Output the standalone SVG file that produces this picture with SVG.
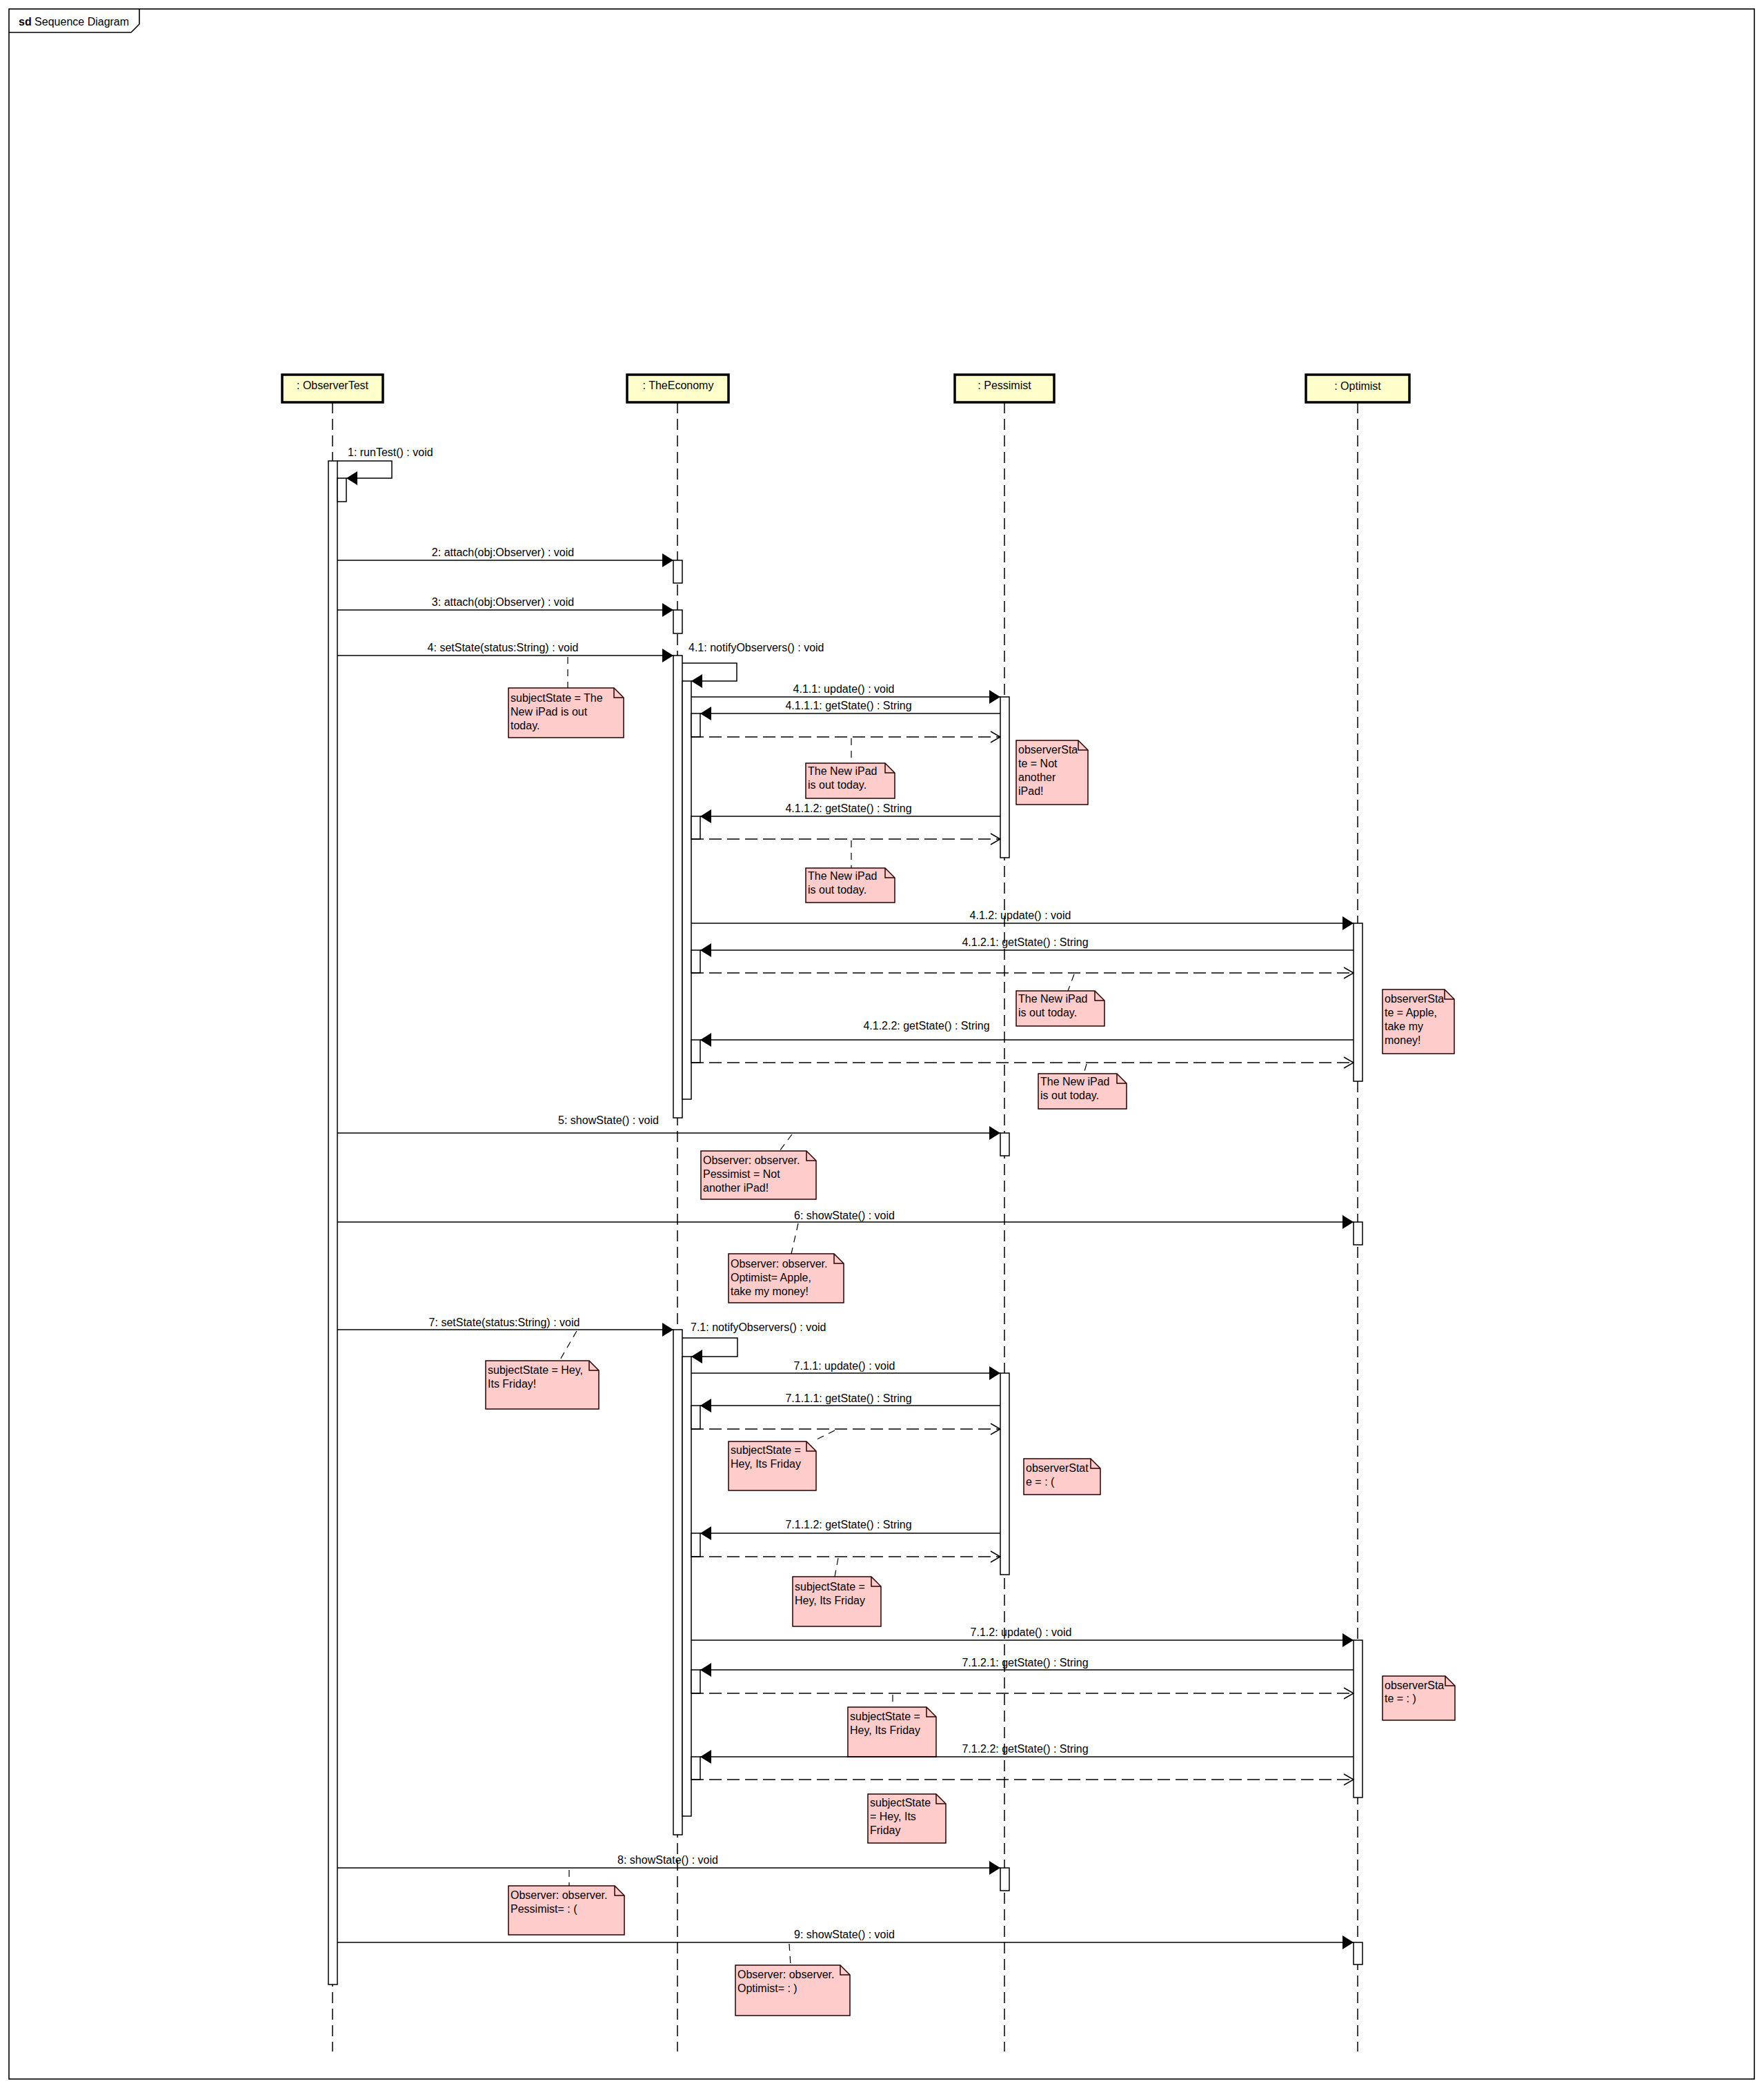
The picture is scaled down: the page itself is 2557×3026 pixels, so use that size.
<svg xmlns="http://www.w3.org/2000/svg" width="2557" height="3026" viewBox="0 0 2557 3026">
<style>
  text { font-family: "Liberation Sans", Arial, sans-serif; font-size: 16px; fill: #000; }
  .c { text-anchor: middle; }
  .frame { fill: #fff; stroke: #000; stroke-width: 1.6; }
  .tab { fill: none; stroke: #000; stroke-width: 1.6; }
  .head { fill: #FFFFCC; stroke: #000; stroke-width: 3.5; }
  .life { stroke: #000; stroke-width: 1.5; stroke-dasharray: 16 8; fill: none; }
  .act { fill: #fff; stroke: #000; stroke-width: 1.5; }
  .msg { stroke: #000; stroke-width: 1.5; fill: none; marker-end: url(#solid); }
  .ret { stroke: #000; stroke-width: 1.5; fill: none; stroke-dasharray: 18 8; marker-end: url(#open); }
  .link { stroke: #000; stroke-width: 1.2; stroke-dasharray: 10 8; fill: none; }
  .note { fill: #FFCCCC; stroke: #2a0000; stroke-width: 1.5; }
  .fold { fill: none; stroke: #2a0000; stroke-width: 1.5; }
</style>
<defs>
  <marker id="solid" viewBox="0 0 16 20" refX="16" refY="10" markerWidth="16" markerHeight="20" markerUnits="userSpaceOnUse" orient="auto">
    <path d="M0,0 L16,10 L0,20 Z" fill="#000"/>
  </marker>
  <marker id="open" viewBox="0 0 16 18" refX="15" refY="9" markerWidth="16" markerHeight="18" markerUnits="userSpaceOnUse" orient="auto">
    <path d="M1,1 L15,9 L1,17" fill="none" stroke="#000" stroke-width="1.5"/>
  </marker>
</defs>

<!-- diagram frame -->
<g id="frame">
  <rect class="frame" x="13" y="13" width="2530" height="3000"/>
  <path class="tab" d="M13,47 H190 L202,35 V13"/>
  <text x="27" y="37"><tspan font-weight="bold">sd</tspan> Sequence Diagram</text>
</g>

<!-- lifelines -->
<g id="lifeline-observertest">
  <line class="life" x1="482" y1="583" x2="482" y2="2973"/>
  <rect class="head" x="409" y="543" width="146" height="40"/>
  <text class="c" x="482" y="564">: ObserverTest</text>
</g>
<g id="lifeline-theeconomy">
  <line class="life" x1="982" y1="583" x2="982" y2="2973"/>
  <rect class="head" x="909" y="543" width="147" height="40"/>
  <text class="c" x="983" y="564">: TheEconomy</text>
</g>
<g id="lifeline-pessimist">
  <line class="life" x1="1456" y1="583" x2="1456" y2="2973"/>
  <rect class="head" x="1384" y="543" width="144" height="40"/>
  <text class="c" x="1456" y="564">: Pessimist</text>
</g>
<g id="lifeline-optimist">
  <line class="life" x1="1968" y1="583" x2="1968" y2="2973"/>
  <rect class="head" x="1893" y="543" width="150" height="40"/>
  <text class="c" x="1968" y="565">: Optimist</text>
</g>

<!-- activation bars -->
<g id="activations">
  <rect class="act" x="476" y="668" width="13" height="2208"/>
  <rect class="act" x="489" y="693" width="13" height="34"/>

  <rect class="act" x="976" y="812" width="13" height="33"/>
  <rect class="act" x="976" y="884" width="13" height="34"/>
  <rect class="act" x="976" y="950" width="13" height="670"/>
  <rect class="act" x="989" y="987" width="13" height="606"/>
  <rect class="act" x="1002" y="1034" width="13" height="34"/>
  <rect class="act" x="1002" y="1183" width="13" height="33"/>
  <rect class="act" x="1002" y="1377" width="13" height="33"/>
  <rect class="act" x="1002" y="1507" width="13" height="33"/>
  <rect class="act" x="976" y="1927" width="13" height="732"/>
  <rect class="act" x="989" y="1966" width="13" height="666"/>
  <rect class="act" x="1002" y="2037" width="13" height="34"/>
  <rect class="act" x="1002" y="2222" width="13" height="34"/>
  <rect class="act" x="1002" y="2420" width="13" height="34"/>
  <rect class="act" x="1002" y="2546" width="13" height="33"/>

  <rect class="act" x="1450" y="1010" width="13" height="233"/>
  <rect class="act" x="1450" y="1642" width="13" height="33"/>
  <rect class="act" x="1450" y="1990" width="13" height="292"/>
  <rect class="act" x="1450" y="2707" width="13" height="33"/>

  <rect class="act" x="1962" y="1338" width="13" height="229"/>
  <rect class="act" x="1962" y="1771" width="13" height="33"/>
  <rect class="act" x="1962" y="2377" width="13" height="228"/>
  <rect class="act" x="1962" y="2815" width="13" height="32"/>
</g>

<!-- notes -->
<g id="note-1"><path class="note" d="M737,997 H890 L904,1011 V1069 H737 Z"/><path class="fold" d="M890,997 V1011 H904"/>
  <text x="740" y="1017">subjectState = The</text><text x="740" y="1037">New iPad is out</text><text x="740" y="1057">today.</text></g>
<g id="note-2"><path class="note" d="M1168,1106 H1283 L1297,1120 V1157 H1168 Z"/><path class="fold" d="M1283,1106 V1120 H1297"/>
  <text x="1171" y="1123">The New iPad</text><text x="1171" y="1143">is out today.</text></g>
<g id="note-3"><path class="note" d="M1473,1073 H1563 L1577,1087 V1166 H1473 Z"/><path class="fold" d="M1563,1073 V1087 H1577"/>
  <text x="1476" y="1092">observerSta</text><text x="1476" y="1112">te = Not</text><text x="1476" y="1132">another</text><text x="1476" y="1152">iPad!</text></g>
<g id="note-4"><path class="note" d="M1168,1258 H1283 L1297,1272 V1308 H1168 Z"/><path class="fold" d="M1283,1258 V1272 H1297"/>
  <text x="1171" y="1275">The New iPad</text><text x="1171" y="1295">is out today.</text></g>
<g id="note-5"><path class="note" d="M1473,1436 H1587 L1601,1450 V1487 H1473 Z"/><path class="fold" d="M1587,1436 V1450 H1601"/>
  <text x="1476" y="1453">The New iPad</text><text x="1476" y="1473">is out today.</text></g>
<g id="note-6"><path class="note" d="M2004,1434 H2094 L2108,1448 V1527 H2004 Z"/><path class="fold" d="M2094,1434 V1448 H2108"/>
  <text x="2007" y="1453">observerSta</text><text x="2007" y="1473">te = Apple,</text><text x="2007" y="1493">take my</text><text x="2007" y="1513">money!</text></g>
<g id="note-7"><path class="note" d="M1505,1556 H1619 L1633,1570 V1607 H1505 Z"/><path class="fold" d="M1619,1556 V1570 H1633"/>
  <text x="1508" y="1573">The New iPad</text><text x="1508" y="1593">is out today.</text></g>
<g id="note-8"><path class="note" d="M1016,1668 H1169 L1183,1682 V1738 H1016 Z"/><path class="fold" d="M1169,1668 V1682 H1183"/>
  <text x="1019" y="1687">Observer: observer.</text><text x="1019" y="1707">Pessimist = Not</text><text x="1019" y="1727">another iPad!</text></g>
<g id="note-9"><path class="note" d="M1056,1817 H1209 L1223,1831 V1888 H1056 Z"/><path class="fold" d="M1209,1817 V1831 H1223"/>
  <text x="1059" y="1837">Observer: observer.</text><text x="1059" y="1857">Optimist= Apple,</text><text x="1059" y="1877">take my money!</text></g>
<g id="note-10"><path class="note" d="M704,1972 H854 L868,1986 V2042 H704 Z"/><path class="fold" d="M854,1972 V1986 H868"/>
  <text x="707" y="1991">subjectState = Hey,</text><text x="707" y="2011">Its Friday!</text></g>
<g id="note-11"><path class="note" d="M1056,2089 H1169 L1183,2103 V2160 H1056 Z"/><path class="fold" d="M1169,2089 V2103 H1183"/>
  <text x="1059" y="2107">subjectState =</text><text x="1059" y="2127">Hey, Its Friday</text></g>
<g id="note-12"><path class="note" d="M1484,2114 H1581 L1595,2128 V2166 H1484 Z"/><path class="fold" d="M1581,2114 V2128 H1595"/>
  <text x="1487" y="2133">observerStat</text><text x="1487" y="2153">e = : (</text></g>
<g id="note-13"><path class="note" d="M1149,2285 H1263 L1277,2299 V2357 H1149 Z"/><path class="fold" d="M1263,2285 V2299 H1277"/>
  <text x="1152" y="2305">subjectState =</text><text x="1152" y="2325">Hey, Its Friday</text></g>
<g id="note-14"><path class="note" d="M1229,2474 H1343 L1357,2488 V2546 H1229 Z"/><path class="fold" d="M1343,2474 V2488 H1357"/>
  <text x="1232" y="2493">subjectState =</text><text x="1232" y="2513">Hey, Its Friday</text></g>
<g id="note-15"><path class="note" d="M2004,2429 H2095 L2109,2443 V2493 H2004 Z"/><path class="fold" d="M2095,2429 V2443 H2109"/>
  <text x="2007" y="2448">observerSta</text><text x="2007" y="2467">te = : )</text></g>
<g id="note-16"><path class="note" d="M1258,2600 H1357 L1371,2614 V2671 H1258 Z"/><path class="fold" d="M1357,2600 V2614 H1371"/>
  <text x="1261" y="2618">subjectState</text><text x="1261" y="2638">= Hey, Its</text><text x="1261" y="2658">Friday</text></g>
<g id="note-17"><path class="note" d="M737,2733 H891 L905,2747 V2804 H737 Z"/><path class="fold" d="M891,2733 V2747 H905"/>
  <text x="740" y="2752">Observer: observer.</text><text x="740" y="2772">Pessimist= : (</text></g>
<g id="note-18"><path class="note" d="M1066,2848 H1218 L1232,2862 V2921 H1066 Z"/><path class="fold" d="M1218,2848 V2862 H1232"/>
  <text x="1069" y="2867">Observer: observer.</text><text x="1069" y="2887">Optimist= : )</text></g>

<!-- messages, returns and note links -->
<g id="connectors">
  <polyline class="msg" points="489,668 568,668 568,693 502,693"/>
  <text x="504" y="661">1: runTest() : void</text>

  <line class="msg" x1="489" y1="812" x2="976" y2="812"/>
  <text class="c" x="729" y="806">2: attach(obj:Observer) : void</text>
  <line class="msg" x1="489" y1="884" x2="976" y2="884"/>
  <text class="c" x="729" y="878">3: attach(obj:Observer) : void</text>
  <line class="msg" x1="489" y1="950" x2="976" y2="950"/>
  <text class="c" x="729" y="944">4: setState(status:String) : void</text>

  <polyline class="msg" points="989,961 1068,961 1068,987 1002,987"/>
  <text x="998" y="944">4.1: notifyObservers() : void</text>

  <line class="msg" x1="1002" y1="1010" x2="1450" y2="1010"/>
  <text class="c" x="1223" y="1004">4.1.1: update() : void</text>
  <line class="msg" x1="1450" y1="1034" x2="1015" y2="1034"/>
  <text class="c" x="1230" y="1028">4.1.1.1: getState() : String</text>
  <line class="ret" x1="1002" y1="1068" x2="1450" y2="1068"/>
  <line class="msg" x1="1450" y1="1183" x2="1015" y2="1183"/>
  <text class="c" x="1230" y="1177">4.1.1.2: getState() : String</text>
  <line class="ret" x1="1002" y1="1216" x2="1450" y2="1216"/>

  <line class="msg" x1="1002" y1="1338" x2="1962" y2="1338"/>
  <text class="c" x="1479" y="1332">4.1.2: update() : void</text>
  <line class="msg" x1="1962" y1="1377" x2="1015" y2="1377"/>
  <text class="c" x="1486" y="1371">4.1.2.1: getState() : String</text>
  <line class="ret" x1="1002" y1="1410" x2="1962" y2="1410"/>
  <line class="msg" x1="1962" y1="1507" x2="1015" y2="1507"/>
  <text class="c" x="1343" y="1492">4.1.2.2: getState() : String</text>
  <line class="ret" x1="1002" y1="1540" x2="1962" y2="1540"/>

  <line class="msg" x1="489" y1="1642" x2="1450" y2="1642"/>
  <text class="c" x="882" y="1629">5: showState() : void</text>
  <line class="msg" x1="489" y1="1771" x2="1962" y2="1771"/>
  <text class="c" x="1224" y="1767">6: showState() : void</text>

  <line class="msg" x1="489" y1="1927" x2="976" y2="1927"/>
  <text class="c" x="731" y="1922">7: setState(status:String) : void</text>
  <polyline class="msg" points="989,1939 1069,1939 1069,1966 1002,1966"/>
  <text x="1001" y="1929">7.1: notifyObservers() : void</text>

  <line class="msg" x1="1002" y1="1990" x2="1450" y2="1990"/>
  <text class="c" x="1224" y="1985">7.1.1: update() : void</text>
  <line class="msg" x1="1450" y1="2037" x2="1015" y2="2037"/>
  <text class="c" x="1230" y="2032">7.1.1.1: getState() : String</text>
  <line class="ret" x1="1002" y1="2071" x2="1450" y2="2071"/>
  <line class="msg" x1="1450" y1="2222" x2="1015" y2="2222"/>
  <text class="c" x="1230" y="2215">7.1.1.2: getState() : String</text>
  <line class="ret" x1="1002" y1="2256" x2="1450" y2="2256"/>

  <line class="msg" x1="1002" y1="2377" x2="1962" y2="2377"/>
  <text class="c" x="1480" y="2371">7.1.2: update() : void</text>
  <line class="msg" x1="1962" y1="2420" x2="1015" y2="2420"/>
  <text class="c" x="1486" y="2415">7.1.2.1: getState() : String</text>
  <line class="ret" x1="1002" y1="2454" x2="1962" y2="2454"/>
  <line class="msg" x1="1962" y1="2546" x2="1015" y2="2546"/>
  <text class="c" x="1486" y="2540">7.1.2.2: getState() : String</text>
  <line class="ret" x1="1002" y1="2579" x2="1962" y2="2579"/>

  <line class="msg" x1="489" y1="2707" x2="1450" y2="2707"/>
  <text class="c" x="968" y="2701">8: showState() : void</text>
  <line class="msg" x1="489" y1="2815" x2="1962" y2="2815"/>
  <text class="c" x="1224" y="2809">9: showState() : void</text>

  <!-- note anchors -->
  <line class="link" x1="823" y1="952" x2="823" y2="997"/>
  <line class="link" x1="1234" y1="1070" x2="1234" y2="1106"/>
  <line class="link" x1="1234" y1="1218" x2="1234" y2="1258"/>
  <line class="link" x1="1557" y1="1412" x2="1548" y2="1436"/>
  <line class="link" x1="1575" y1="1542" x2="1571" y2="1556"/>
  <line class="link" x1="1148" y1="1644" x2="1130" y2="1668"/>
  <line class="link" x1="1157" y1="1773" x2="1147" y2="1817"/>
  <line class="link" x1="836" y1="1929" x2="811" y2="1972"/>
  <line class="link" x1="1210" y1="2073" x2="1178" y2="2089"/>
  <line class="link" x1="1215" y1="2258" x2="1210" y2="2285"/>
  <line class="link" x1="1294" y1="2456" x2="1294" y2="2474"/>
  <line class="link" x1="825" y1="2710" x2="825" y2="2733"/>
  <line class="link" x1="1144" y1="2817" x2="1146" y2="2848"/>
</g>
</svg>
